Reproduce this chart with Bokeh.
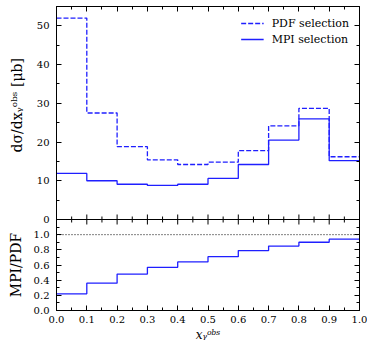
import math
from bokeh.plotting import figure
from bokeh.models import (Range1d, LinearAxis, FixedTicker, PrintfTickFormatter,
                          Legend, LegendItem, Span, CustomLabelingPolicy)
from bokeh.core.properties import value
from bokeh.layouts import row
from bokeh.embed import file_html
from bokeh.resources import INLINE

# ---- data ----
bin_edges = [0.0, 0.1, 0.2, 0.3, 0.4, 0.5, 0.6, 0.7, 0.8, 0.9, 1.0]
pdf_selection = [52.0, 27.5, 18.8, 15.4, 14.2, 14.8, 17.8, 24.2, 28.7, 16.2]
mpi_selection = [11.9, 10.0, 9.1, 8.8, 9.1, 10.6, 14.2, 20.5, 26.0, 15.2]
mpi_over_pdf = [0.22, 0.36, 0.48, 0.57, 0.64, 0.71, 0.79, 0.85, 0.90, 0.94]
ratio_reference = 1.0
legend_labels = ["PDF selection", "MPI selection"]
y_titles = ["dσ/dxᵧᵒᵇˢ [μb]", "MPI/PDF"]
x_title = "xᵧᵒᵇˢ"

# tick definitions
xs_major = [0.0, 0.1, 0.2, 0.3, 0.4, 0.5, 0.6, 0.7, 0.8, 0.9, 1.0]
xs_minor = [0.05, 0.15, 0.25, 0.35, 0.45, 0.55, 0.65, 0.75, 0.85, 0.95]
top_major = [0, 10, 20, 30, 40, 50]
top_minor = [5, 15, 25, 35, 45]
ratio_major = [0.0, 0.2, 0.4, 0.6, 0.8, 1.0]
ratio_minor = [0.1, 0.3, 0.5, 0.7, 0.9, 1.1]

FONT = "DejaVu Serif"
BLUE = "#1f1fff"

# panel geometry (pixels) and value ranges
TOP_PX, BOT_PX = 213, 91
TOP_MAX, RATIO_MAX = 55.0, 1.2
main_start = -TOP_MAX * BOT_PX / TOP_PX
ratio_end = RATIO_MAX * (TOP_PX + BOT_PX) / BOT_PX
TITLE_W = 30


def to_main(r):
    return main_start + r / ratio_end * (TOP_MAX - main_start)


def step_y(vals):
    return list(vals) + [vals[-1]]


def style_axis(ax, labels=True):
    ax.axis_line_color = "black"
    ax.axis_line_width = 1
    ax.major_tick_in = 5
    ax.major_tick_out = 0
    ax.minor_tick_in = 3
    ax.minor_tick_out = 0
    ax.major_tick_line_color = "black"
    ax.minor_tick_line_color = "black"
    ax.major_label_text_font = FONT
    ax.major_label_text_font_size = "10px"
    ax.major_label_text_color = "black"
    ax.major_label_standoff = 7
    ax.axis_label_text_font = FONT
    ax.axis_label_text_color = "black"
    if not labels:
        ax.major_label_text_font_size = "1px"
        ax.major_label_standoff = 0
        ax.major_label_policy = CustomLabelingPolicy(code="return new Set()")


y_main = Range1d(main_start, TOP_MAX)
y_ratio = Range1d(0, ratio_end)

p = figure(frame_width=303, frame_height=TOP_PX + BOT_PX,
           x_range=Range1d(0, 1), y_range=y_main,
           x_axis_location=None, y_axis_location=None,
           output_backend="svg", toolbar_location=None,
           min_border_left=55 - TITLE_W, min_border_right=9, min_border_top=6,
           min_border_bottom=35,
           background_fill_color="white", border_fill_color="white")
p.grid.visible = False
p.outline_line_color = "black"
p.extra_y_ranges = {"ratio": y_ratio}

# y ticks for both panels on one axis
y_major = [float(v) for v in top_major] + [to_main(r) for r in ratio_major]
y_minor = [float(v) for v in top_minor] + [to_main(r) for r in ratio_minor]
overrides = {float(v): str(v) for v in top_major}
overrides.update({to_main(r): "%.1f" % r for r in ratio_major})

left = LinearAxis(ticker=FixedTicker(ticks=y_major, minor_ticks=y_minor))
style_axis(left)
left.major_label_overrides = overrides
right = LinearAxis(ticker=FixedTicker(ticks=y_major, minor_ticks=y_minor))
style_axis(right, labels=False)
above = LinearAxis(ticker=FixedTicker(ticks=xs_major, minor_ticks=xs_minor))
style_axis(above, labels=False)
below = LinearAxis(ticker=FixedTicker(ticks=xs_major, minor_ticks=xs_minor),
                   formatter=PrintfTickFormatter(format="%.1f"),
                   axis_label=x_title)
style_axis(below)
below.major_label_standoff = 5
below.axis_label_standoff = 2
below.axis_label_text_font_size = "12px"
below.axis_label_text_font_style = "italic"
p.add_layout(left, "left")
p.add_layout(right, "right")
p.add_layout(above, "above")
p.add_layout(below, "below")

# separator between the panels, with ticks crossing it
p.add_layout(Span(location=0, dimension="width", line_color="black", line_width=1))
p.scatter(xs_major, [0] * len(xs_major), marker="dash", angle=math.pi / 2, size=10,
          line_color="black", line_width=1)
p.scatter(xs_minor, [0] * len(xs_minor), marker="dash", angle=math.pi / 2, size=6,
          line_color="black", line_width=1)

# upper panel histograms
r_pdf = p.step(bin_edges, step_y(pdf_selection), mode="after",
               line_color=BLUE, line_width=1.3, line_dash="5 2")
r_mpi = p.step(bin_edges, step_y(mpi_selection), mode="after",
               line_color=BLUE, line_width=1.3)

legend = Legend(items=[LegendItem(label=legend_labels[0], renderers=[r_pdf]),
                       LegendItem(label=legend_labels[1], renderers=[r_mpi])],
                location="top_right", margin=0, padding=10, spacing=2,
                glyph_width=23, glyph_height=14, label_height=14, label_standoff=8,
                label_text_font=FONT, label_text_font_size="11px",
                label_text_color="black",
                background_fill_alpha=0, border_line_alpha=0)
p.add_layout(legend)

# lower panel ratio
p.add_layout(Span(location=ratio_reference, dimension="width", y_range_name="ratio",
                  line_color="black", line_width=1, line_dash="1 2"))
p.step(bin_edges, step_y(mpi_over_pdf), mode="after", y_range_name="ratio",
       line_color=BLUE, line_width=1.3)

# narrow strip on the left holding the two y-axis titles
t = figure(frame_width=TITLE_W, frame_height=TOP_PX + BOT_PX,
           x_range=Range1d(0, TITLE_W), y_range=y_main,
           x_axis_location=None, y_axis_location=None,
           output_backend="svg", toolbar_location=None,
           min_border_left=0, min_border_right=0, min_border_top=6, min_border_bottom=35,
           background_fill_color="white", border_fill_color="white")
t.grid.visible = False
t.outline_line_color = None
t.extra_y_ranges = {"ratio": y_ratio}
t.text(x=[16], y=[29.5], text=[y_titles[0]], angle=math.pi / 2,
       text_align="center", text_baseline="middle",
       text_font=value(FONT), text_font_size="14px", text_color="black")
t.text(x=[15], y=[0.6], text=[y_titles[1]], angle=math.pi / 2, y_range_name="ratio",
       text_align="center", text_baseline="middle",
       text_font=value(FONT), text_font_size="14px", text_color="black")

layout = row(t, p, spacing=0)

with open("out.html", "w") as f:
    f.write(file_html(layout, INLINE))
